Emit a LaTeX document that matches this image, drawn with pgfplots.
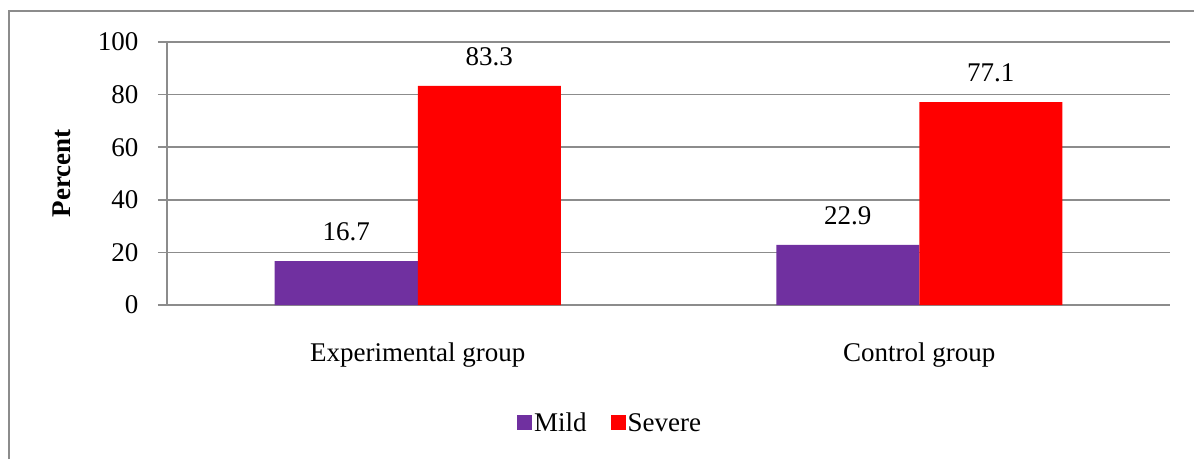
\documentclass[border=0pt]{standalone}
\usepackage{pgfplots}
\pgfplotsset{compat=1.18}
\usepackage{fontspec}
\setmainfont{Liberation Serif}
\definecolor{mild}{HTML}{7030A0}
\definecolor{severe}{HTML}{FF0000}
\definecolor{gridgray}{HTML}{8C8C8C}
\newcommand{\cf}{\fontsize{27}{31}\selectfont}
\begin{document}
\begin{tikzpicture}[x=1pt,y=1pt]
\useasboundingbox (0,0) rectangle (1194,459);
\draw[gridgray, line width=1.5pt] (9,0) -- (9,448) -- (1194,448);
\begin{axis}[
  at={(167pt,154pt)}, anchor=south west,
  scale only axis, width=1003pt, height=263pt,
  ybar=0pt, bar width=143pt,
  xmin=-0.5, xmax=1.5, ymin=0, ymax=100,
  xtick={0,1}, xticklabels={Experimental group, Control group},
  ytick={0,20,...,100},
  axis x line*=bottom, axis y line*=left,
  axis line style={gridgray, line width=1.5pt},
  ymajorgrids, grid style={gridgray, line width=1.5pt},
  major tick style={gridgray, line width=1.5pt},
  xtick style={draw=none},
  tick align=outside, major tick length=9pt,
  /pgf/number format/assume math mode=true,
  tick label style={font=\cf},
  xticklabel style={yshift=-25pt},
  yticklabel style={xshift=-16pt},
  ylabel={\textbf{Percent}},
  ylabel style={font=\cf, at={(axis description cs:-0.1047,0.5)}, anchor=center},
  point meta=explicit symbolic,
  nodes near coords,
  nodes near coords style={font=\cf, anchor=south, inner sep=0pt, yshift=20pt, text=black},
  legend columns=2,
  legend style={at={(axis description cs:0.4417,-0.449)}, anchor=center, draw=none, fill=none,
    font=\cf, nodes={inner sep=2pt},
    /tikz/every even column/.append style={column sep=22pt}},
  legend image code/.code={\fill[#1] (0pt,-7pt) rectangle (15pt,8pt);},
]
\addplot[fill=mild, draw=none] coordinates {(0,16.7) [16.7] (1,22.9) [22.9]};
\addplot[fill=severe, draw=none] coordinates {(0,83.3) [83.3] (1,77.1) [77.1]};
\legend{Mild, Severe}
\end{axis}
\end{tikzpicture}
\end{document}
